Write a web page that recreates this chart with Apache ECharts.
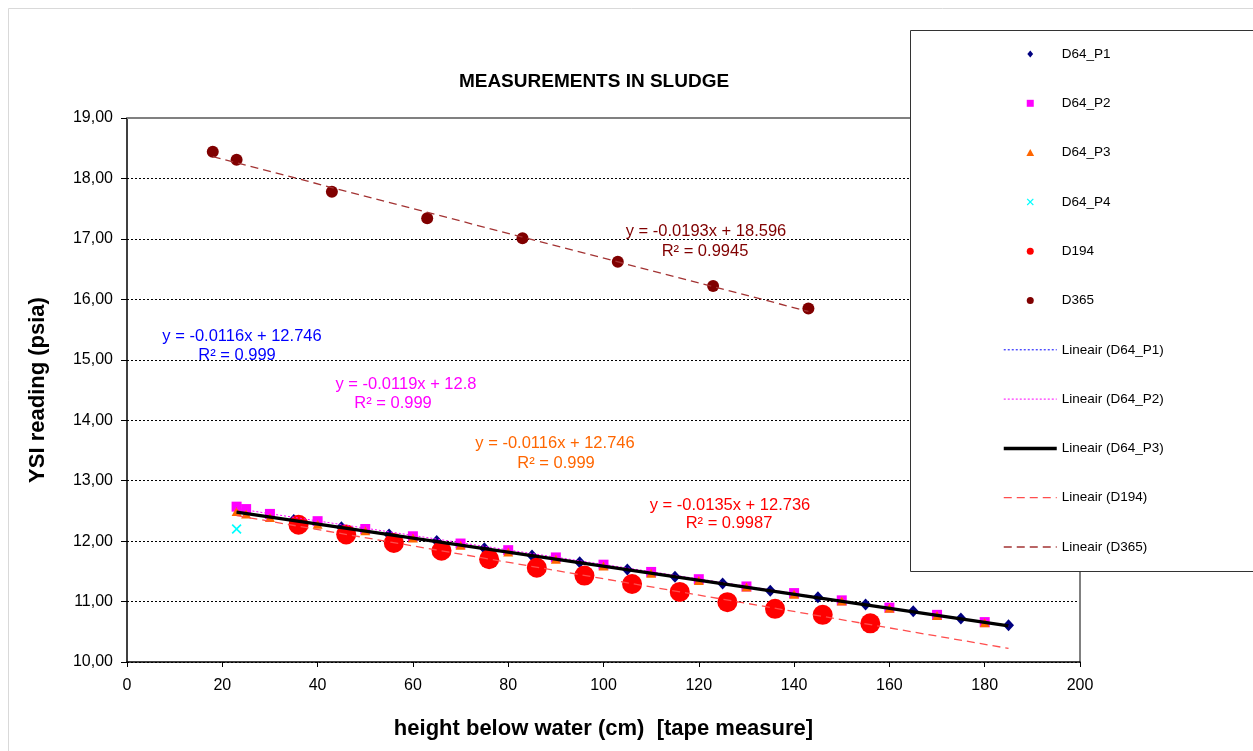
<!DOCTYPE html>
<html><head><meta charset="utf-8">
<script src="https://cdn.jsdelivr.net/npm/echarts@6/dist/echarts.min.js"></script>
<style>html,body{margin:0;padding:0;background:#fff}#c{width:1253px;height:751px}</style>
</head><body><div id="c"></div>
<script>
// ---------------- DATA ----------------
const chartTitle = 'MEASUREMENTS IN SLUDGE';
const xName = 'height below water (cm)  [tape measure]';
const yName = 'YSI reading (psia)';

const p1X = [35,45,55,65,75,85,95,105,115,125,135,145,155,165,175,185];
const p1Y = [12.35,12.23,12.11,12.00,11.88,11.76,11.65,11.53,11.41,11.30,11.18,11.07,10.95,10.84,10.72,10.61];

const p2X = [23,25,30,40,50,60,70,80,90,100,110,120,130,140,150,160,170,180];
const p2Y = [12.57,12.53,12.45,12.33,12.20,12.08,11.96,11.85,11.73,11.61,11.49,11.37,11.25,11.14,11.02,10.90,10.78,10.66];

const p3X = [23,25,30,40,50,60,70,80,90,100,110,120,130,140,150,160,170,180];
const p3Y = [12.49,12.45,12.39,12.28,12.17,12.05,11.93,11.82,11.70,11.59,11.47,11.35,11.24,11.12,11.01,10.89,10.77,10.65];

const p4X = [23];
const p4Y = [12.20];

const d194X = [36,46,56,66,76,86,96,106,116,126,136,146,156];
const d194Y = [12.27,12.11,11.97,11.84,11.70,11.56,11.43,11.29,11.16,10.99,10.88,10.78,10.64];

const d365X = [18,23,43,63,83,103,123,143];
const d365Y = [18.44,18.31,17.78,17.34,17.01,16.62,16.22,15.85];

const seriesNames = ['D64_P1','D64_P2','D64_P3','D64_P4','D194','D365'];
const trendNames = ['Lineair (D64_P1)','Lineair (D64_P2)','Lineair (D64_P3)','Lineair (D194)','Lineair (D365)'];
// x extent of each trend line as drawn
const trendFrom = [23,23,23,23,18];
const trendTo   = [185,185,185,185,143];

const eqLines = [
  ['y = -0.0116x + 12.746','R\u00b2 = 0.999'],
  ['y = -0.0119x + 12.8','R\u00b2 = 0.999'],
  ['y = -0.0116x + 12.746','R\u00b2 = 0.999'],
  ['y = -0.0135x + 12.736','R\u00b2 = 0.9987'],
  ['y = -0.0193x + 18.596','R\u00b2 = 0.9945']
];

// ---------------- LAYOUT / STYLE ----------------
const FONT = '"Liberation Sans", Arial, sans-serif';
const eqPos = [[242,336,237,355],[406,384,393,403],[555,443,556,463],[730,505,729,523],[706,231,705,251]];
const eqColor = ['#0000FF','#FF00FF','#FF6600','#FF0000','#800000'];

function pairs(xs, ys){ return xs.map((x,i)=>[x, ys[i]]); }
function fit(xs, ys){
  const n = xs.length; let sx=0, sy=0, sxx=0, sxy=0;
  for(let i=0;i<n;i++){ sx+=xs[i]; sy+=ys[i]; sxx+=xs[i]*xs[i]; sxy+=xs[i]*ys[i]; }
  const a = (n*sxy - sx*sy)/(n*sxx - sx*sx);
  const b = (sy - a*sx)/n;
  return [a,b];
}
const trendSrc = [[p1X,p1Y],[p2X,p2Y],[p3X,p3Y],[d194X,d194Y],[d365X,d365Y]];
const trendStyles = [
  {color:'#0000FF', width:1, type:[2,2]},
  {color:'#FF00FF', width:1, type:[2,2]},
  {color:'#000000', width:3.5, type:'solid'},
  {color:'#FF4D4D', width:1.3, type:[8,5]},
  {color:'#A33333', width:1.3, type:[8,5]}
];

const symDiamond = 'path://M5,0L10,6L5,12L0,6Z';
const symSquare = 'path://M0,0L10,0L10,10L0,10Z';
const symTriangle = 'path://M5,0L10,9L0,9Z';
const symX = 'path://M0,1.2L1.2,0L5,3.8L8.8,0L10,1.2L6.2,5L10,8.8L8.8,10L5,6.2L1.2,10L0,8.8L3.8,5Z';
const scatterDefs = [
  {x:p1X, y:p1Y, symbol:symDiamond, size:[11,12], color:'#000080'},
  {x:p2X, y:p2Y, symbol:symSquare, size:10, color:'#FF00FF'},
  {x:p3X, y:p3Y, symbol:symTriangle, size:[10,9], color:'#FF6600'},
  {x:p4X, y:p4Y, symbol:symX, size:10, color:'#00FFFF'},
  {x:d194X, y:d194Y, symbol:'circle', size:20, color:'#FF0000'},
  {x:d365X, y:d365Y, symbol:'circle', size:12, color:'#800000'}
];

const series = [];
scatterDefs.forEach((d,i)=>{
  series.push({name:seriesNames[i], type:'scatter', xAxisIndex:0, yAxisIndex:0,
    symbol:d.symbol, symbolSize:d.size, itemStyle:{color:d.color, opacity:1},
    data:pairs(d.x,d.y), silent:true, z:2});
});
trendSrc.forEach((s,i)=>{
  const [a,b] = fit(s[0], s[1]);
  series.push({name:trendNames[i], type:'line', xAxisIndex:0, yAxisIndex:0,
    symbol:'none', showSymbol:false, silent:true, z:3,
    lineStyle:trendStyles[i], itemStyle:{color:'rgba(0,0,0,0)'},
    data:[[trendFrom[i], a*trendFrom[i]+b],[trendTo[i], a*trendTo[i]+b]]});
});

const graphics = [
  {type:'rect', shape:{x:8.5,y:8.5,width:1400,height:900}, style:{fill:'none', stroke:'#d9d9d9', lineWidth:1}, z:-10, silent:true},
  {type:'rect', shape:{x:910.5,y:30.5,width:400,height:541}, style:{fill:'#fff', stroke:'#333', lineWidth:1}, z:3, silent:true},
  {type:'text', x:594, y:82, style:{text:chartTitle, fill:'#000', font:'bold 19px '+FONT, align:'center', verticalAlign:'middle'}, z:5}
];
eqLines.forEach((ln,i)=>{
  const p = eqPos[i];
  graphics.push({type:'text', x:p[0], y:p[1], style:{text:ln[0], fill:eqColor[i], font:'16.5px '+FONT, align:'center', verticalAlign:'middle'}, z:5});
  graphics.push({type:'text', x:p[2], y:p[3], style:{text:ln[1], fill:eqColor[i], font:'16.5px '+FONT, align:'center', verticalAlign:'middle'}, z:5});
});

const chart = echarts.init(document.getElementById('c'), null, {renderer:'canvas'});
chart.setOption({
  backgroundColor:'#fff',
  animation:false,
  textStyle:{fontFamily:FONT},
  grid:{left:127, right:173, top:118, bottom:89, containLabel:false},
  xAxis:[{
    type:'value', min:0, max:200, interval:20, position:'bottom',
    axisLine:{show:true, onZero:false, lineStyle:{color:'#000', width:1.5}},
    axisTick:{show:true, length:5, lineStyle:{color:'#000'}},
    axisLabel:{color:'#000', fontSize:16, margin:16, fontFamily:FONT},
    splitLine:{show:false},
    name:xName, nameLocation:'middle', nameGap:56,
    nameTextStyle:{color:'#000', fontSize:22, fontWeight:'bold', fontFamily:FONT}
  },{
    type:'value', min:0, max:200, position:'top',
    axisLine:{show:true, onZero:false, lineStyle:{color:'#808080', width:2}},
    axisTick:{show:false}, axisLabel:{show:false}, splitLine:{show:false}
  }],
  yAxis:[{
    type:'value', min:10, max:19, interval:1, position:'left',
    axisLine:{show:true, onZero:false, lineStyle:{color:'#000', width:1.5}},
    axisTick:{show:true, length:6, lineStyle:{color:'#000'}},
    axisLabel:{color:'#000', fontSize:16, margin:14, fontFamily:FONT,
      formatter:v=>v.toFixed(2).replace('.',',')},
    splitLine:{show:true, lineStyle:{color:'#000', type:[2,2], width:1}},
    name:yName, nameLocation:'middle', nameGap:78,
    nameTextStyle:{color:'#000', fontSize:22, fontWeight:'bold', fontFamily:FONT}
  },{
    type:'value', min:10, max:19, position:'right',
    axisLine:{show:true, onZero:false, lineStyle:{color:'#808080', width:2}},
    axisTick:{show:false}, axisLabel:{show:false}, splitLine:{show:false}
  }],
  legend:{
    orient:'vertical', left:1002, top:47, itemWidth:53, itemHeight:7, itemGap:35.3,
    selectedMode:false, padding:0, z:4, symbolKeepAspect:true,
    lineStyle:{width:'inherit'},
    textStyle:{color:'#000', fontSize:13.5, lineHeight:14, fontFamily:FONT},
    data:seriesNames.concat(trendNames)
  },
  graphic:graphics,
  series:series
});
</script>
</body></html>
